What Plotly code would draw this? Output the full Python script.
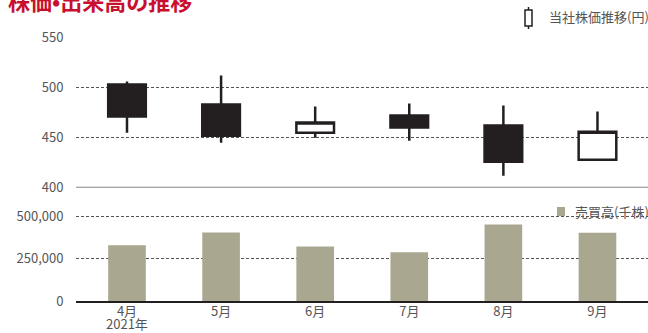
import plotly.graph_objects as go

months = ["4月", "5月", "6月", "7月", "8月", "9月"]
tick_labels = ["4月", "5月", "6月", "7月", "8月", "9月"]
year_label = "2021年"
open_p = [503, 483, 455, 472, 462, 428]
high_p = [506, 512, 481, 484, 482, 476]
low_p = [455, 445, 450, 447, 412, 427]
close_p = [471, 452, 465, 460, 426, 456]
volume = [330000, 405000, 322000, 288000, 452000, 404000]

FONT = "Noto Sans CJK JP, Noto Sans, sans-serif"
TXT = "#555555"
GRID = "#555555"
DARK = "#231f20"
BARC = "#a9a78f"
W, H = 648, 333

def py(px):
    return 1 - px / H

fig = go.Figure()
fig.add_trace(go.Candlestick(
    x=months, open=open_p, high=high_p, low=low_p, close=close_p,
    increasing=dict(fillcolor="white", line=dict(color=DARK, width=2.5)),
    decreasing=dict(fillcolor=DARK, line=dict(color=DARK, width=2.5)),
    whiskerwidth=0, xaxis="x", yaxis="y", showlegend=False, hoverinfo="skip",
))
fig.add_trace(go.Bar(
    x=months, y=volume, marker=dict(color=BARC, line=dict(width=0)),
    width=0.4, xaxis="x2", yaxis="y2", showlegend=False, hoverinfo="skip",
))

xr = [-0.542, 5.537]
xd = [76 / W, 1]
fig.update_layout(
    template="none",
    width=W, height=H, margin=dict(l=0, r=0, t=0, b=0, pad=0, autoexpand=False),
    paper_bgcolor="white", plot_bgcolor="white",
    font=dict(family=FONT, size=13, color=TXT),
    boxgap=0.6, boxgroupgap=0,
    xaxis=dict(domain=xd, range=xr, type="category", showticklabels=False,
               showgrid=False, zeroline=False, rangeslider=dict(visible=False),
               anchor="y", fixedrange=True, automargin=False, ticks=""),
    yaxis=dict(domain=[py(187.7), py(37)], range=[400, 550.5], tickvals=[400, 450, 500, 550],
               showgrid=True, gridcolor=GRID, gridwidth=1, griddash="3px,2px",
               zeroline=False, showline=False, ticks="outside", ticklen=9,
               tickcolor="rgba(0,0,0,0)", tickfont=dict(size=13, color=TXT), anchor="x",
               automargin=False),
    xaxis2=dict(domain=xd, range=xr, type="category", tickvals=months, ticktext=tick_labels,
                showgrid=False, zeroline=False, showline=True, linecolor=DARK, linewidth=2,
                ticks="", ticklen=0, ticklabelstandoff=-3,
                tickfont=dict(size=13, color=TXT), anchor="y2", automargin=False),
    yaxis2=dict(domain=[py(301), py(213)], range=[0, 520000], tickvals=[0, 250000, 500000],
                tickformat=",", showgrid=True, gridcolor=GRID, gridwidth=1, griddash="3px,2px",
                zeroline=False, showline=False, ticks="outside", ticklen=9,
                tickcolor="rgba(0,0,0,0)", tickfont=dict(size=13, color=TXT), anchor="x2",
                automargin=False),
)

# top axis base line (400)
fig.add_shape(type="line", xref="paper", yref="y", x0=xd[0], x1=1, y0=400, y1=400,
              line=dict(color="#888888", width=2))

# year label under the first month
fig.add_annotation(text=year_label, xref="x2", yref="paper", x=months[0], y=py(323),
                   xanchor="center", yanchor="middle", showarrow=False, borderpad=0,
                   font=dict(size=13, color=TXT, family=FONT))

# title (partially cut off at top, as in the original)
fig.add_annotation(text="<b>株価•出来高の推移</b>", xref="paper", yref="paper",
                   x=6 / W, y=py(-0.5), xanchor="left", yanchor="middle", showarrow=False,
                   font=dict(size=22, color="#c8102e", family=FONT))

# legend 1: candle icon + text
fig.add_shape(type="line", xref="paper", yref="paper", x0=528.5 / W, x1=528.5 / W,
              y0=py(7), y1=py(29), line=dict(color=DARK, width=1.5))
fig.add_shape(type="rect", xref="paper", yref="paper", x0=525 / W, x1=532 / W,
              y0=py(10), y1=py(26), line=dict(color=DARK, width=1.5), fillcolor="white")
fig.add_annotation(text="当社株価推移(円)", xref="paper", yref="paper",
                   x=1, y=py(16), xanchor="right", yanchor="middle", showarrow=False,
                   xshift=3, font=dict(size=13, color=TXT, family=FONT))

# legend 2: square + text
fig.add_shape(type="rect", xref="paper", yref="paper", x0=557 / W, x1=565 / W,
              y0=py(207), y1=py(216), line=dict(width=0), fillcolor=BARC)
fig.add_annotation(text="売買高(千株)", xref="paper", yref="paper",
                   x=1, y=py(211.5), xanchor="right", yanchor="middle", showarrow=False,
                   xshift=3, font=dict(size=13, color=TXT, family=FONT))

fig.write_html("out.html")
